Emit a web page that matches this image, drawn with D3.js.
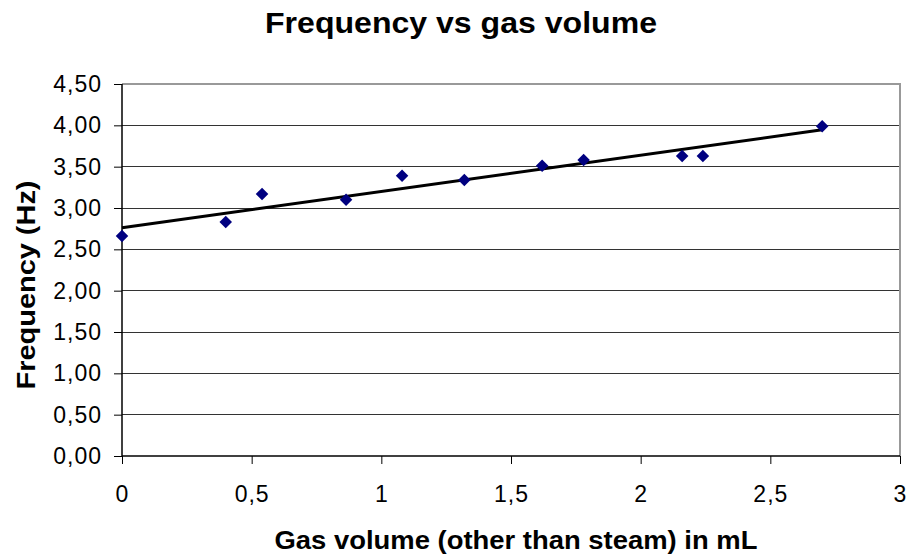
<!DOCTYPE html>
<html>
<head>
<meta charset="utf-8">
<style>
  body { margin: 0; background: #fff; }
  text { font-family: "Liberation Sans", Arial, sans-serif; }
</style>
</head>
<body>
<svg id="chart" width="909" height="556"></svg>
<script src="https://d3js.org/d3.v7.min.js"></script>
<script>
  // measured points: gas volume (mL) and frequency (Hz)
  const gasVolume = [0, 0.40, 0.54, 0.864, 1.08, 1.32, 1.62, 1.78, 2.16, 2.24, 2.70]
  const frequency = [2.66, 2.83, 3.17, 3.10, 3.39, 3.34, 3.51, 3.58, 3.63, 3.63, 3.99]
  const xTicks = [0, 0.5, 1, 1.5, 2, 2.5, 3]
  const yTicks = [0, 0.5, 1, 1.5, 2, 2.5, 3, 3.5, 4, 4.5]

  const svg = d3.select('#chart')
  const plotL = 122, plotR = 900, plotT = 84, plotB = 456

  const x = d3.scaleLinear().domain([0, 3]).range([plotL, plotR])
  const y = d3.scaleLinear().domain([0, 4.5]).range([plotB, plotT])

  const comma = d => String(d).replace('.', ',')
  const comma2 = d => d.toFixed(2).replace('.', ',')

  // gridlines
  svg.append('g')
    .selectAll('line')
    .data(yTicks.slice(1, -1))
    .enter()
    .append('line')
    .attr('x1', plotL).attr('x2', plotR)
    .attr('y1', d => y(d)).attr('y2', d => y(d))
    .attr('stroke', '#333').attr('stroke-width', 1)
    .attr('shape-rendering', 'crispEdges')

  // gray frame top/right
  svg.append('path')
    .attr('d', `M${plotL},${plotT}H${plotR}V${plotB}`)
    .attr('fill', 'none').attr('stroke', '#999').attr('stroke-width', 2)
    .attr('shape-rendering', 'crispEdges')

  // axes
  const yAxis = svg.append('g')
    .attr('transform', `translate(${plotL},0)`)
    .call(d3.axisLeft(y).tickValues(yTicks).tickFormat(comma2).tickSize(8).tickPadding(12))
  const xAxis = svg.append('g')
    .attr('transform', `translate(0,${plotB})`)
    .call(d3.axisBottom(x).tickValues(xTicks).tickFormat(comma).tickSize(8).tickPadding(22))

  ;[yAxis, xAxis].forEach(a => {
    a.selectAll('path').attr('stroke', '#000').attr('stroke-width', 1.5)
    a.selectAll('line').attr('stroke', '#000').attr('stroke-width', 1)
    a.selectAll('text').attr('font-size', 23).attr('fill', '#000')
      .attr('letter-spacing', 1)
      .style('font-family', '"Liberation Sans", Arial, sans-serif')
  })
  yAxis.select('.domain').attr('d', `M0,${plotT}V${plotB}`)
  xAxis.select('.domain').attr('d', `M${plotL},0H${plotR}`)

  // least squares trend line
  const mx = d3.mean(gasVolume), my = d3.mean(frequency)
  const slope = d3.sum(gasVolume, (v, i) => (v - mx) * (frequency[i] - my)) /
    d3.sum(gasVolume, v => (v - mx) ** 2)
  const icpt = my - slope * mx
  const xExt = d3.extent(gasVolume)
  svg.append('line')
    .attr('x1', x(xExt[0])).attr('y1', y(icpt + slope * xExt[0]))
    .attr('x2', x(xExt[1])).attr('y2', y(icpt + slope * xExt[1]))
    .attr('stroke', '#000').attr('stroke-width', 3)

  // diamond markers
  svg.append('g')
    .selectAll('path')
    .data(gasVolume)
    .enter()
    .append('path')
    .attr('d', d3.symbol(d3.symbolDiamond2, 100))
    .attr('transform', (d, i) => `translate(${x(d)},${y(frequency[i])})`)
    .attr('fill', '#000080')

  // titles
  svg.append('text')
    .attr('x', 461).attr('y', 33)
    .attr('text-anchor', 'middle')
    .attr('font-size', 30).attr('font-weight', 'bold')
    .attr('textLength', 392).attr('lengthAdjust', 'spacingAndGlyphs')
    .text('Frequency vs gas volume')
  svg.append('text')
    .attr('x', 516).attr('y', 549)
    .attr('text-anchor', 'middle')
    .attr('font-size', 26).attr('font-weight', 'bold')
    .attr('textLength', 483).attr('lengthAdjust', 'spacingAndGlyphs')
    .text('Gas volume (other than steam) in mL')
  svg.append('text')
    .attr('transform', `translate(35,285) rotate(-90)`)
    .attr('text-anchor', 'middle')
    .attr('font-size', 26).attr('font-weight', 'bold')
    .attr('textLength', 209).attr('lengthAdjust', 'spacingAndGlyphs')
    .text('Frequency (Hz)')
</script>
</body>
</html>
